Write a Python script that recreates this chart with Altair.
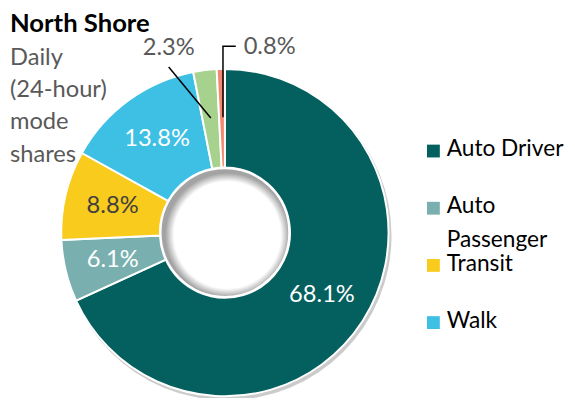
import math
import altair as alt
import pandas as pd

# ---------------- data ----------------
modes = ["Auto Driver", "Auto Passenger", "Transit", "Walk", "Bike", "Other"]
shares = [68.1, 6.1, 8.8, 13.8, 2.3, 0.8]
share_labels = ["68.1%", "6.1%", "8.8%", "13.8%", "2.3%", "0.8%"]
slice_colors = ["#04605F", "#79B0AF", "#F9CB1D", "#3DC0E4", "#A7D28D", "#F28A70"]
legend_modes = ["Auto Driver", "Auto Passenger", "Transit", "Walk"]
inside_modes = ["Auto Driver", "Auto Passenger", "Transit", "Walk"]
inside_label_colors = ["#FFFFFF", "#FFFFFF", "#404040", "#FFFFFF"]
outside_modes = ["Bike", "Other"]

title_text = "North Shore"
subtitle_lines = ["Daily", "(24-hour)", "mode", "shares"]

# ---------------- layout constants ----------------
W, H = 567, 390
CX, CY = 220, 225
R_OUT, R_IN, R_LABEL = 166, 66, 117
FONT = "Lato"
GREY = "#595959"

df = pd.DataFrame({"mode": modes, "share": shares, "label": share_labels,
                   "order": list(range(len(modes)))})
cmap = dict(zip(inside_modes, inside_label_colors))
df["inside_label"] = [l if m in inside_modes else "" for m, l in zip(modes, share_labels)]
df["label_color"] = [cmap.get(m, "#FFFFFF") for m in modes]

total = sum(shares)
mids = {}
cum = 0.0
for m, s in zip(modes, shares):
    mids[m] = (cum + s / 2) / total * 2 * math.pi
    cum += s


def polar(angle, r):
    return CX + r * math.sin(angle), CY - r * math.cos(angle)


# leader lines for small slices (start point derived from slice mid-angle)
bx, by = polar(mids["Bike"], R_LABEL)
ox, oy = polar(mids["Other"], R_LABEL)
lines_df = pd.DataFrame({
    "mode": ["Bike", "Bike", "Other", "Other", "Other"],
    "step": [0, 1, 0, 1, 2],
    "x": [bx, 163, ox + 1, ox + 1, 231],
    "y": [by, 57, oy, 36, 36],
})
out_df = pd.DataFrame({
    "mode": outside_modes,
    "label": [share_labels[modes.index(m)] for m in outside_modes],
    "x": [163, 239],
    "y": [45, 44],
    "align": ["center", "left"],
})

xs = alt.Scale(domain=[0, W], range=[0, W], nice=False, zero=False)
ys = alt.Scale(domain=[0, H], range=[0, H], nice=False, zero=False)

theta = alt.Theta("share:Q", stack=True)
order = alt.Order("order:Q", sort="ascending")
one = pd.DataFrame({"k": [0]})

shadow = alt.Chart(one).mark_arc(
    outerRadius=R_OUT + 1, innerRadius=R_IN, theta=0, theta2=2 * math.pi,
    fill="#8c8c8c", opacity=0.45
).encode(x=alt.value(CX + 2), y=alt.value(CY + 3))

donut = alt.Chart(df).mark_arc(
    outerRadius=R_OUT, innerRadius=R_IN, stroke="white", strokeWidth=2
).encode(
    theta=theta, order=order,
    color=alt.Color(
        "mode:N",
        scale=alt.Scale(domain=modes, range=slice_colors),
        legend=alt.Legend(
            values=legend_modes, orient="none", legendX=420, legendY=136,
            title=None, symbolType="M-1,-1.8H1V0.2H-1Z", symbolSize=169,
            symbolStrokeWidth=0, labelFont=FONT, labelFontSize=23,
            labelColor="black", labelBaseline="alphabetic", rowPadding=0,
            labelOffset=2, padding=0, labelLimit=300,
            labelExpr="datum.label == 'Auto Passenger' ? ['Auto', 'Passenger'] : [datum.label, ' ']",
        ),
    ),
    x=alt.value(CX), y=alt.value(CY),
)

# hole with an inset shadow toward the upper left
hole_shade = alt.Chart(one).mark_arc(
    outerRadius=R_IN - 1, innerRadius=0, theta=0, theta2=2 * math.pi,
    fill="#a3a3a3", stroke="white", strokeWidth=1.5,
).encode(x=alt.value(CX), y=alt.value(CY))

hole_light = alt.Chart(one).mark_arc(
    outerRadius=R_IN - 3, innerRadius=0, theta=0, theta2=2 * math.pi,
    fill=alt.Gradient(
        gradient="radial",
        stops=[alt.GradientStop(color="rgba(255,255,255,1)", offset=0),
               alt.GradientStop(color="rgba(255,255,255,1)", offset=0.86),
               alt.GradientStop(color="rgba(255,255,255,0)", offset=1)],
        x1=0.5, y1=0.5, r1=0, x2=0.5, y2=0.5, r2=0.5,
    ),
).encode(x=alt.value(CX + 2.5), y=alt.value(CY + 2.5))

inner = alt.Chart(df).mark_text(
    radius=R_LABEL, font=FONT, fontSize=24, align="center", baseline="middle"
).encode(
    theta=theta, order=order, text="inside_label:N",
    fill=alt.Fill("label_color:N", scale=None),
    x=alt.value(CX), y=alt.value(CY),
)

lines = alt.Chart(lines_df).mark_line(color="black", strokeWidth=1.5).encode(
    x=alt.X("x:Q", scale=xs, axis=None),
    y=alt.Y("y:Q", scale=ys, axis=None),
    detail="mode:N", order="step:Q",
)

out_c = alt.Chart(out_df).transform_filter(alt.datum.align == "center").mark_text(
    align="center", baseline="alphabetic", font=FONT, fontSize=24, color=GREY
).encode(x=alt.X("x:Q", scale=xs, axis=None), y=alt.Y("y:Q", scale=ys, axis=None), text="label:N")

out_l = alt.Chart(out_df).transform_filter(alt.datum.align == "left").mark_text(
    align="left", baseline="alphabetic", font=FONT, fontSize=24, color=GREY
).encode(x=alt.X("x:Q", scale=xs, axis=None), y=alt.Y("y:Q", scale=ys, axis=None), text="label:N")

chart = alt.layer(shadow, donut, hole_shade, hole_light, lines, inner, out_c, out_l).properties(
    width=W, height=H,
    autosize=alt.AutoSizeParams(type="none"),
    padding=0,
    title=alt.TitleParams(
        text=title_text, subtitle=subtitle_lines, anchor="start", dx=2,
        font=FONT, fontSize=26, fontWeight="bold", color="black",
        subtitleFont=FONT, subtitleFontSize=24, subtitleColor=GREY,
        subtitleLineHeight=32.7, subtitlePadding=9.5, offset=-158,
    ),
).configure(
    view=alt.ViewConfig(stroke=None),
    style={"guide-label": {"lineHeight": 34}},
)

chart.save("out.html", embed_options={"renderer": "svg", "actions": False})
